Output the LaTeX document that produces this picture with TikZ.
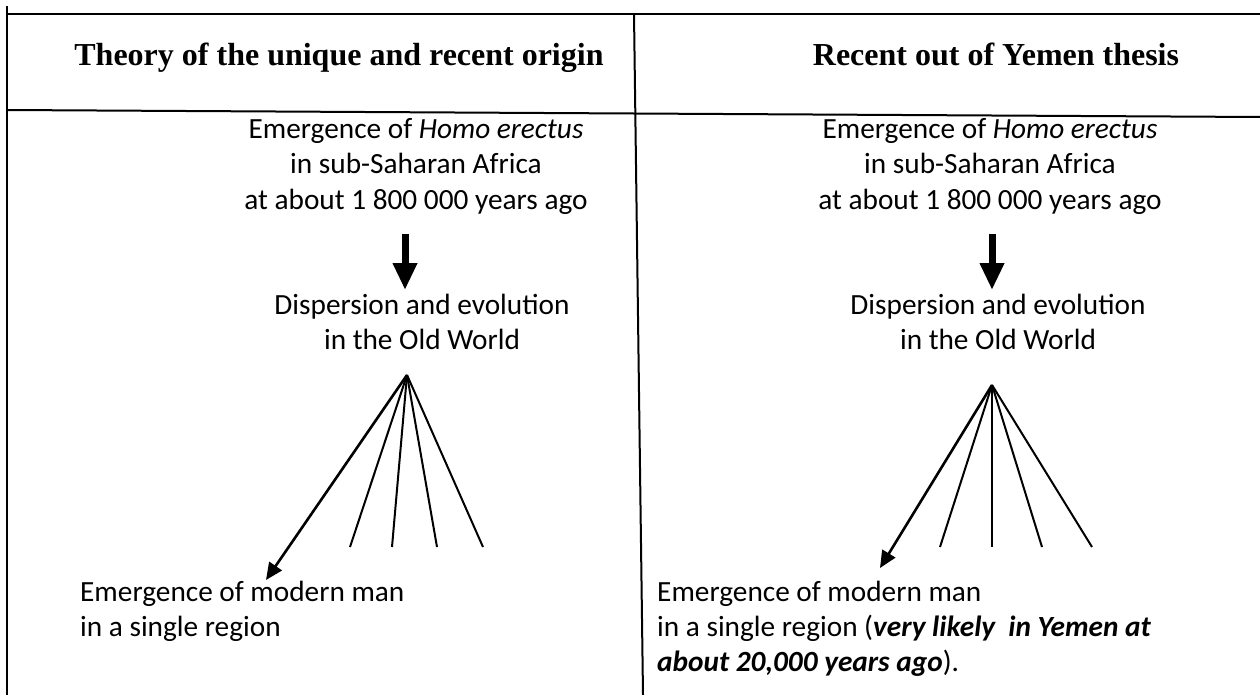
\documentclass[tikz,border=0pt]{standalone}
\usepackage{fontspec}
\newfontfamily\bodyfont{Carlito}
\newfontfamily\headfont{Liberation Serif}
\usetikzlibrary{arrows.meta}
\begin{document}
\begin{tikzpicture}[x=1pt,y=-1pt,
  rule/.style={line width=2pt},
  head/.style={font=\headfont\bfseries\fontsize{32}{40}\selectfont, inner sep=0pt, anchor=base},
  body/.style={font=\bodyfont\fontsize{29.3}{35.4}\selectfont, inner sep=0pt, align=center, anchor=north},
  bodyl/.style={font=\bodyfont\fontsize{29.3}{35}\selectfont, inner sep=0pt, align=left, anchor=north west},
  bigarrow/.style={line width=7pt, -{Triangle[width=23pt,length=27pt]}},
  fanline/.style={line width=2pt},
  fanarrow/.style={line width=2.6pt, -{Triangle[width=15pt,length=17pt]}}
]
\useasboundingbox (0,0) rectangle (1260,695);
% table rules
\draw[rule] (7,6) -- (7,695);
\draw[rule] (7,14) -- (1260,14);
\draw[rule] (7,110) -- (1260,117);
\draw[rule] (634,14) -- (643,695);
% headers
\node[head] (h1) at (339,66) {Theory of the unique and recent origin};
\node[head] (h2) at (996,66) {Recent out of Yemen thesis};
% left column
\node[body] (e1) at (416,118) {Emergence of \textit{Homo erectus}\\ in sub-Saharan Africa\\ at about 1 800 000 years ago};
\coordinate (a1s) at (405,234);
\coordinate (a1e) at (405,290);
\draw[bigarrow] (a1s) -- (a1e);
\node[body] (d1) at (422,294) {Dispersion and evolution\\ in the Old World};
\coordinate (f1) at (407,375);
\coordinate (f1a) at (350,547);
\coordinate (f1b) at (392,547);
\coordinate (f1c) at (437,547);
\coordinate (f1d) at (483,547);
\coordinate (t1) at (266,580);
\foreach \p in {f1a,f1b,f1c,f1d} \draw[fanline] (f1) -- (\p);
\draw[fanarrow] (f1) -- (t1);
\node[bodyl] (m1) at (80,581) {Emergence of modern man\\ in a single region};
% right column
\node[body] (e2) at (990,118) {Emergence of \textit{Homo erectus}\\ in sub-Saharan Africa\\ at about 1 800 000 years ago};
\coordinate (a2s) at (992,234);
\coordinate (a2e) at (992,290);
\draw[bigarrow] (a2s) -- (a2e);
\node[body] (d2) at (998,294) {Dispersion and evolution\\ in the Old World};
\coordinate (f2) at (992,385);
\coordinate (f2a) at (940,547);
\coordinate (f2b) at (992,547);
\coordinate (f2c) at (1042,547);
\coordinate (f2d) at (1092,547);
\coordinate (t2) at (880,568);
\foreach \p in {f2a,f2b,f2c,f2d} \draw[fanline] (f2) -- (\p);
\draw[fanarrow] (f2) -- (t2);
\node[bodyl] (m2) at (657,581) {Emergence of modern man\\ in a single region (\textbf{\textit{very likely\ \ in Yemen at}}\\ \textbf{\textit{about 20,000 years ago}}).};
\end{tikzpicture}
\end{document}
